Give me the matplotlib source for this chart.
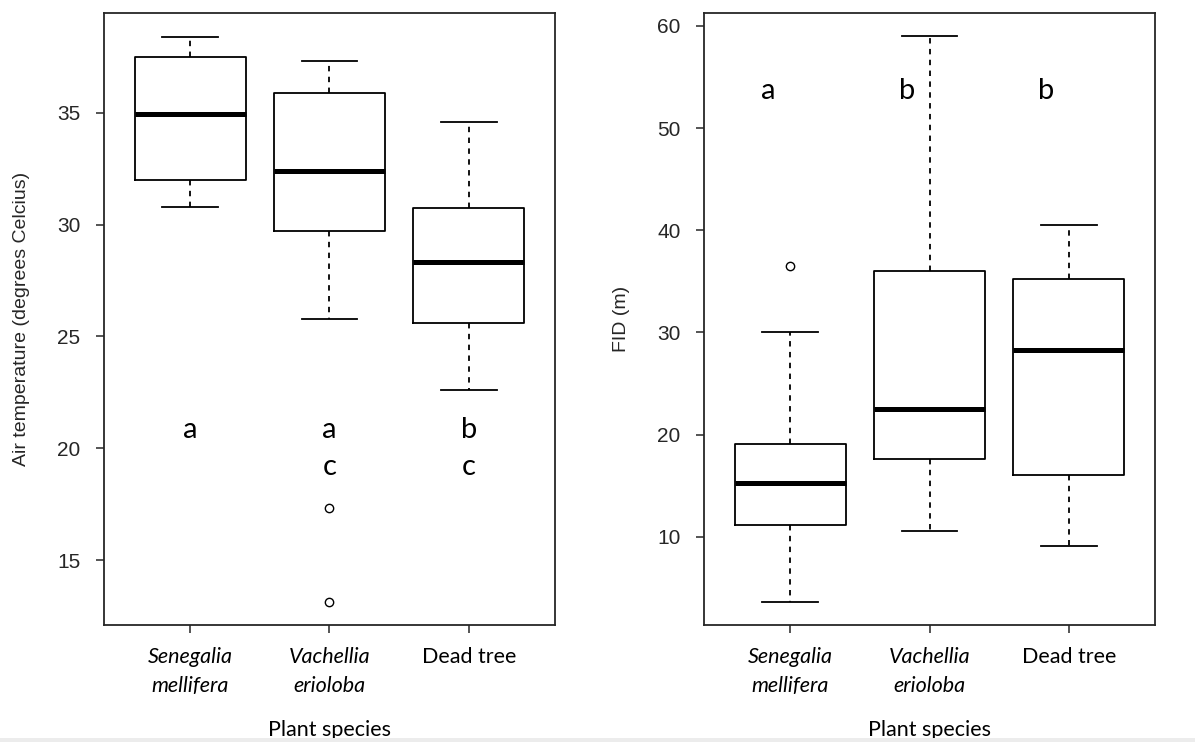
import matplotlib
matplotlib.use("Agg")
import matplotlib.pyplot as plt
from matplotlib.patches import Rectangle

# Groups (x axis)
categories = ["Senegalia\nmellifera", "Vachellia\nerioloba", "Dead tree"]
italic_labels = [True, True, False]

# Air temperature (degrees Celcius): five-number summaries and outliers
temp_whislo = [30.8, 25.8, 22.6]
temp_q1 = [32.0, 29.7, 25.6]
temp_med = [34.95, 32.4, 28.35]
temp_q3 = [37.5, 35.9, 30.75]
temp_whishi = [38.4, 37.3, 34.6]
temp_fliers = [[], [17.35, 13.15], []]

# Flight initiation distance (m)
fid_whislo = [3.65, 10.6, 9.05]
fid_q1 = [11.1, 17.6, 16.0]
fid_med = [15.3, 22.5, 28.3]
fid_q3 = [19.1, 36.0, 35.25]
fid_whishi = [30.0, 59.05, 40.5]
fid_fliers = [[36.5], [], []]

# Significance letters
temp_letters_top = ["a", "a", "b"]
temp_letters_bottom = ["", "c", "c"]
fid_letters = ["a", "b", "b"]

temp_yticks = [15, 20, 25, 30, 35]
fid_yticks = [10, 20, 30, 40, 50, 60]

TICK_FONT = "Liberation Sans"
LABEL_FONT = "Lato"
DARK = "#262626"

fig = plt.figure(figsize=(11.95, 7.42), dpi=100)
fig.patch.set_facecolor("white")


def stats_from(lo, q1, med, q3, hi, fliers):
    return [dict(whislo=a, q1=b, med=c, q3=d, whishi=e, fliers=f)
            for a, b, c, d, e, f in zip(lo, q1, med, q3, hi, fliers)]


def draw_panel(ax, stats, yticks, ylim, ylabel):
    positions = list(range(1, len(stats) + 1))
    ax.bxp(stats, positions=positions, widths=0.8, capwidths=0.4,
           showfliers=True,
           boxprops=dict(color="black", linewidth=1.3),
           whiskerprops=dict(color="black", linewidth=1.3, linestyle=(0, (3, 3))),
           capprops=dict(color="black", linewidth=1.3),
           medianprops=dict(color="black", linewidth=3.6, solid_capstyle="butt"),
           flierprops=dict(marker="o", markerfacecolor="none",
                           markeredgecolor="black", markersize=6,
                           markeredgewidth=1.0))
    ax.set_xlim(0.38, len(stats) + 0.62)
    ax.set_ylim(*ylim)
    ax.set_yticks(yticks)
    ax.set_yticklabels([str(t) for t in yticks], fontfamily=TICK_FONT,
                       fontsize=15, color=DARK)
    ax.set_xticks(positions)
    ax.set_xticklabels(categories, fontfamily=LABEL_FONT, fontsize=15.5,
                       color="black", linespacing=1.55)
    for lab, it in zip(ax.get_xticklabels(), italic_labels):
        lab.set_fontstyle("italic" if it else "normal")
    ax.tick_params(axis="y", length=6, width=1.1, color=DARK, pad=11)
    ax.tick_params(axis="x", length=6, width=1.1, color=DARK, pad=10)
    for sp in ax.spines.values():
        sp.set_linewidth(1.3)
        sp.set_color(DARK)
    ax.text(-0.184, 0.5, ylabel, transform=ax.transAxes, rotation=90,
            ha="center", va="center", fontfamily=TICK_FONT, fontsize=14,
            color=DARK)
    ax.text(0.5, -0.172, "Plant species", transform=ax.transAxes,
            ha="center", va="center", fontfamily=LABEL_FONT, fontsize=15.5,
            color="black")
    ax.set_facecolor("white")


ax1 = fig.add_axes([104 / 1195, 117 / 742, 451 / 1195, 612 / 742])
ax2 = fig.add_axes([704 / 1195, 117 / 742, 451 / 1195, 612 / 742])

draw_panel(ax1, stats_from(temp_whislo, temp_q1, temp_med, temp_q3,
                           temp_whishi, temp_fliers),
           temp_yticks, (12.1, 39.46), "Air temperature (degrees Celcius)")
draw_panel(ax2, stats_from(fid_whislo, fid_q1, fid_med, fid_q3,
                           fid_whishi, fid_fliers),
           fid_yticks, (1.35, 61.27), "FID (m)")

for i, (top, bot) in enumerate(zip(temp_letters_top, temp_letters_bottom), 1):
    ax1.text(i, 20.44, top, ha="center", va="baseline",
             fontfamily=LABEL_FONT, fontsize=21, color="black")
    if bot:
        ax1.text(i, 18.8, bot, ha="center", va="baseline",
                 fontfamily=LABEL_FONT, fontsize=21, color="black")

for i, letter in enumerate(fid_letters, 1):
    ax2.text(i - 0.16, 52.82, letter, ha="center", va="baseline",
             fontfamily=LABEL_FONT, fontsize=21, color="black")

# faint strip along the lower edge of the canvas
fig.patches.append(Rectangle((0, 0), 1, 4 / 742, transform=fig.transFigure,
                             facecolor="#ececec", edgecolor="none", zorder=0))

fig.savefig("out.png", dpi=100, facecolor="white")
